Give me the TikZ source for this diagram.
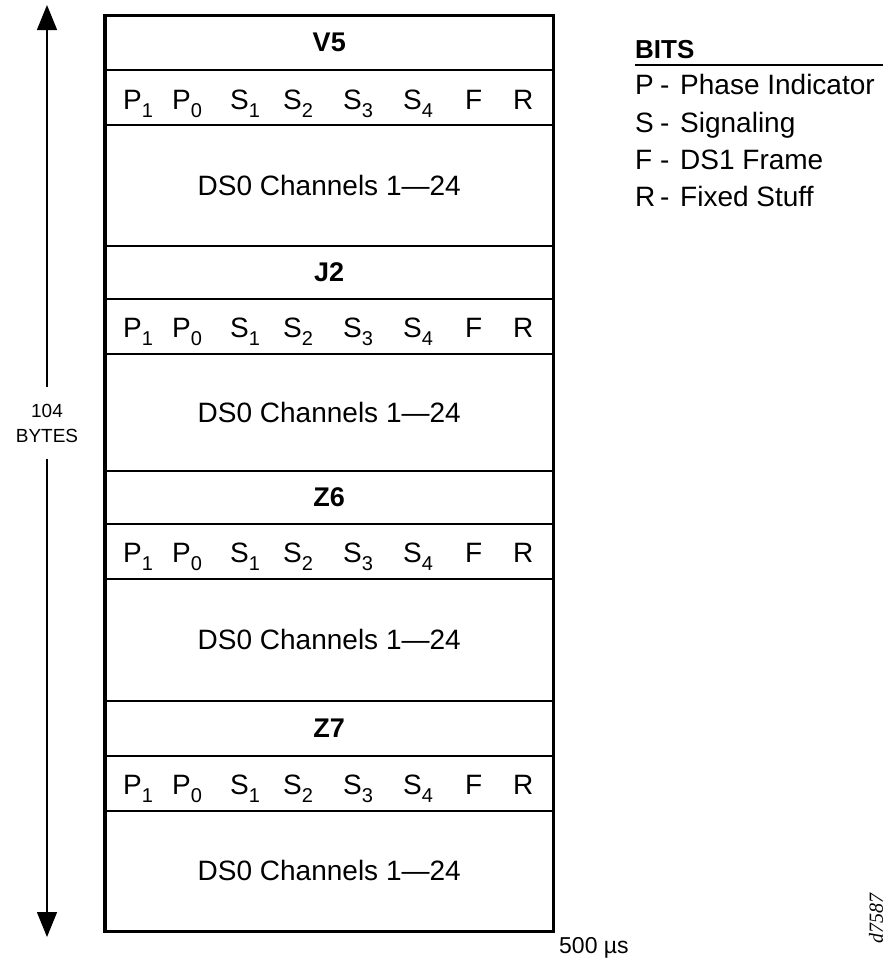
\documentclass[tikz,border=0pt]{standalone}
\usepackage{fontspec}
\setmainfont{Liberation Sans}
\newfontfamily\serifit{Liberation Serif}
\usetikzlibrary{arrows.meta}
\newcommand\sbit[2]{#1\raisebox{-8pt}{\fontsize{20}{20}\selectfont #2}}
\begin{document}
\begin{tikzpicture}[x=1pt,y=-1pt,
  band/.style={draw, line width=1.7pt, rectangle, minimum width=448.5pt, inner sep=0pt, anchor=north},
  headtxt/.style={font=\fontsize{27}{32}\selectfont\bfseries},
  bodytxt/.style={font=\fontsize{28}{32}\selectfont},
  bittxt/.style={font=\fontsize{28}{32}\selectfont, anchor=base west, inner sep=0pt},
  legtxt/.style={font=\fontsize{28}{32}\selectfont, anchor=base west, inner sep=0pt},
  arr/.style={line width=1.5pt, -{Triangle[length=25pt,width=20pt]}}]
\useasboundingbox (0,0) rectangle (889,961);
% blocks
\newcommand\blk[7]{%
  \node[band, headtxt, minimum height=#4-#3] (#1h) at (329.25,#3) {#2};
  \node[band, minimum height=#5-#4] (#1b) at (329.25,#4) {};
  \node[band, bodytxt, minimum height=#7-#5] (#1d) at (329.25,#5) {DS0 Channels 1—24};
  \foreach \xx/\ll/\ss [count=\i] in {123/P/1,172/P/0,230/S/1,283/S/2,343/S/3,403/S/4,465/F/,513/R/}
    \node[bittxt] (#1bit\i) at (\xx,#6) {\sbit{\ll}{\ss}};
}
\blk{v}{V5}{13.5}{69}{124}{109}{245}
\blk{j}{J2}{245}{298}{353}{337}{470}
\blk{z}{Z6}{470}{523}{578}{562}{700}
\blk{y}{Z7}{700}{755}{810}{794}{930}
\node[draw, line width=3.3pt, minimum width=448.5pt, minimum height=916.5pt, inner sep=0pt, anchor=north] (frame) at (329.25,13.5) {};
% arrow
\node[font=\fontsize{19}{25}\selectfont, align=center, inner sep=0pt, inner ysep=17pt] (bytes) at (47,423) {104\\BYTES};
\coordinate (atop) at (47,5);
\coordinate (abot) at (47,937);
\draw[arr] (bytes.north) -- (atop);
\draw[arr] (bytes.south) -- (abot);
% legend
\node[anchor=base west, inner sep=0pt, font=\fontsize{26}{30}\selectfont\bfseries] (bits) at (635,58) {BITS};
\coordinate (ulL) at (635,65);
\coordinate (ulR) at (883,65);
\draw[line width=1.5pt] (ulL) -- (ulR);
\foreach \yy/\ll/\dd [count=\i] in {94/P/Phase Indicator,132/S/Signaling,169/F/DS1 Frame,206/R/Fixed Stuff}{
  \node[legtxt] (leg\i) at (635,\yy) {\ll};
  \node[legtxt] (legd\i) at (660,\yy) {-};
  \node[legtxt] (legt\i) at (680,\yy) {\dd};
}
% time
\node[anchor=base west, inner sep=0pt, font=\fontsize{23}{27}\selectfont] (time) at (559,953) {500 µs};
\node[rotate=90, inner sep=0pt, font=\fontsize{20}{24}\selectfont\serifit\itshape] (fig) at (876,918) {d7587};
\end{tikzpicture}
\end{document}
